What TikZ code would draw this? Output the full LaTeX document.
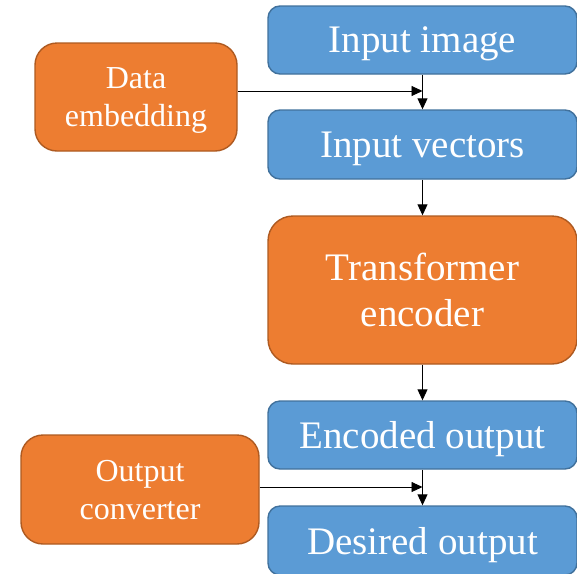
\documentclass[tikz,border=0pt]{standalone}
\usepackage{fontspec}
\setmainfont{Liberation Serif}
\usetikzlibrary{arrows.meta}
\definecolor{boxblue}{HTML}{5B9BD5}
\definecolor{lineblue}{HTML}{41719C}
\definecolor{boxorange}{HTML}{ED7D31}
\definecolor{lineorange}{HTML}{AE5A21}
\tikzset{
    bluebox/.style={draw=lineblue, fill=boxblue, line width=1.4pt, rounded corners=12pt,
        text=white, minimum width=309pt, align=center, inner sep=0pt, text depth=0pt,
        font=\fontsize{39}{46}\selectfont},
    sidebox/.style={draw=lineorange, fill=boxorange, line width=1.4pt, rounded corners=22pt,
        text=white, align=center, inner sep=0pt, text depth=0pt,
        font=\fontsize{32}{38}\selectfont},
    flow/.style={line width=0.9pt, -{Triangle[length=11pt,width=10pt]}}
}
\begin{document}
\begin{tikzpicture}[x=1pt,y=-1pt]
    \useasboundingbox (0,0) rectangle (577,573);

    % Draw main column
    \node[bluebox, minimum height=68pt] (img) at (422.5,40) {Input image};
    \node[bluebox, minimum height=69pt] (vec) at (422.5,144.5) {Input vectors};
    \node[bluebox, fill=boxorange, draw=lineorange, rounded corners=25pt,
        minimum height=148pt] (enc) at (422.5,290) {Transformer\\encoder};
    \node[bluebox, minimum height=68pt] (out) at (422.5,435) {Encoded output};
    \node[bluebox, minimum height=69pt] (des) at (422.5,540.5) {Desired output};

    % Draw side boxes
    \node[sidebox, minimum width=202pt, minimum height=108pt] (emb) at (136,97) {Data\\embedding};
    \node[sidebox, minimum width=238pt, minimum height=109pt] (conv) at (140,489.5) {Output\\converter};

    % Draw arrows
    \coordinate (m1) at (422.5,91);
    \coordinate (m2) at (422.5,487);
    \draw[flow] (img) -- (vec);
    \draw[flow] (vec) -- (enc);
    \draw[flow] (enc) -- (out);
    \draw[flow] (out) -- (des);
    \draw[flow] (emb.east |- m1) -- (m1);
    \draw[flow] (conv.east |- m2) -- (m2);
\end{tikzpicture}
\end{document}
